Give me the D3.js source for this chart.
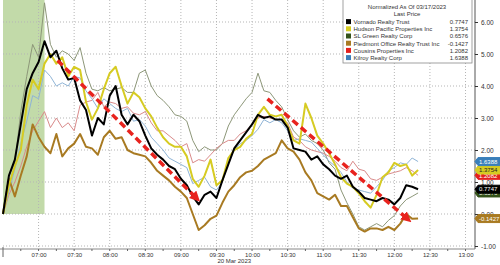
<!DOCTYPE html>
<html>
<head>
<meta charset="utf-8">
<script src="https://cdn.jsdelivr.net/npm/d3@7"></script>
<style>
  html, body { margin: 0; padding: 0; background: #fff; }
  svg { display: block; font-family: "Liberation Sans", Arial, sans-serif; }
</style>
</head>
<body>
<svg id="chart" width="500" height="265"></svg>
<script>
// series names, colours in the order of the legend
const names = ['Vornado Realty Trust', 'Hudson Pacific Properties Inc', 'SL Green Realty Corp',
  'Piedmont Office Realty Trust Inc', 'Cousins Properties Inc', 'Kilroy Realty Corp']
const lastPrice = [0.7747, 1.3754, 0.6576, -0.1427, 1.2082, 1.6388]

// 5 minute samples from 06:30 to 12:20, 20 Mar 2023
const vornado = [0.0, 1.2, 1.7, 2.8, 3.9, 4.4, 4.75, 5.4, 4.9, 5.1, 4.55, 4.2, 4.25, 3.55, 3.25, 2.45, 3.0, 2.8,
  3.7, 4.0, 3.1, 2.8, 3.1, 2.9, 2.45, 2.05, 1.85, 1.7, 1.5, 1.4, 1.1, 0.9, 0.55, 0.3, 0.6, 0.7, 0.5, 1.05,
  1.55, 2.05, 2.3, 2.55, 2.8, 3.1, 3.0, 3.05, 2.95, 2.95, 2.7, 2.05, 2.0, 1.95, 1.7, 1.8, 1.55, 1.4, 1.2,
  1.1, 1.2, 0.85, 0.7, 0.5, 0.45, 0.4, 0.5, 0.45, 0.3, 0.5, 0.9, 0.85, 0.7747]
const hudson = [0.0, 0.9, 1.5, 2.0, 3.4, 4.2, 3.9, 4.7, 5.0, 4.7, 4.9, 4.3, 4.6, 4.5, 3.5, 2.95, 3.3, 3.9,
  4.4, 4.6, 4.0, 3.45, 3.8, 3.65, 3.3, 3.05, 2.7, 2.4, 2.2, 2.1, 2.1, 1.8, 1.1, 0.85, 1.2, 1.7, 0.9, 1.05,
  1.75, 2.0, 2.1, 2.35, 2.5, 3.1, 3.35, 3.1, 3.05, 3.1, 2.75, 2.3, 2.2, 3.45, 3.0, 2.45, 2.2, 1.9, 1.55,
  1.15, 0.95, 0.85, 0.65, 0.4, 0.2, 0.6, 1.15, 1.3, 1.6, 1.5, 1.55, 1.2, 1.3754]
const slGreen = [0.0, 1.2, 1.6, 3.2, 4.3, 5.3, 4.9, 6.6, 5.3, 4.9, 5.1, 5.0, 4.8, 5.2, 4.4, 3.9, 3.85, 3.95,
  3.85, 3.9, 3.95, 3.8, 3.8, 4.4, 4.5, 4.0, 3.7, 3.55, 3.35, 3.1, 3.05, 2.9, 2.3, 1.95, 2.1, 2.0, 2.0, 2.2,
  2.75, 3.1, 3.35, 3.6, 3.8, 4.4, 3.85, 3.8, 3.55, 3.35, 2.95, 2.6, 2.4, 2.5, 2.3, 2.2, 2.0, 1.6, 1.4,
  0.75, 0.35, 0.0, -0.4, -0.5, -0.4, -0.3, -0.4, -0.2, -0.05, 0.25, 0.45, 0.55, 0.6576]
const piedmont = [0.0, 1.1, 0.55, 1.2, 1.8, 2.8, 2.4, 2.1, 1.9, 2.5, 1.8, 2.05, 2.2, 2.5, 2.1, 2.05, 1.85, 2.4,
  2.6, 2.35, 2.4, 2.0, 1.9, 1.85, 1.8, 1.6, 1.35, 1.2, 1.05, 0.85, 0.7, 0.5, 0.0, -0.5, -0.35, -0.15, -0.05,
  0.35, 0.7, 0.9, 1.15, 1.3, 1.35, 1.5, 1.7, 1.8, 1.9, 2.3, 2.05, 1.95, 1.7, 1.3, 1.05, 0.65, 0.55, 0.45,
  0.6, 0.25, 0.25, -0.1, -0.45, -0.55, -0.45, -0.45, -0.5, -0.4, -0.5, -0.3, 0.0, -0.15, -0.1427]
const cousins = [0.0, 0.6, 1.0, 1.5, 2.1, 2.6, 2.9, 3.2, 2.7, 3.0, 2.7, 2.85, 2.6, 3.4, 3.5, 3.55, 3.8, 3.35,
  3.5, 3.45, 3.3, 3.35, 3.15, 3.1, 3.2, 2.85, 2.6, 2.6, 2.45, 2.3, 2.1, 2.2, 1.6, 1.7, 1.65, 1.85, 2.05,
  2.2, 2.3, 2.3, 2.5, 2.6, 2.8, 3.0, 3.05, 3.0, 2.95, 2.95, 2.85, 2.4, 2.3, 2.1, 2.0, 1.95, 1.9, 1.8, 1.65,
  1.45, 1.35, 1.65, 1.4, 1.35, 1.1, 1.05, 1.15, 1.25, 1.3, 1.35, 1.45, 1.35, 1.2082]
const kilroy = [0.0, 0.7, 1.4, 2.2, 2.9, 3.7, 3.6, 4.5, 4.3, 4.0, 4.1, 4.0, 4.3, 4.25, 3.85, 3.6, 3.3, 3.6,
  3.45, 3.3, 3.2, 3.3, 2.9, 2.95, 2.75, 2.4, 2.2, 2.0, 1.75, 1.65, 1.55, 1.45, 0.95, 1.05, 1.15, 0.85, 0.75,
  1.0, 1.6, 2.0, 2.2, 2.3, 2.45, 2.65, 2.95, 2.85, 2.95, 2.85, 2.6, 2.3, 2.35, 2.3, 2.25, 2.05, 1.85, 1.65,
  1.5, 1.3, 1.0, 0.8, 0.75, 0.7, 0.65, 0.85, 1.05, 1.35, 1.45, 1.6, 1.55, 1.75, 1.6388]

const yTicks = [-1, 0, 1, 2, 3, 4, 5, 6]
// hand drawn trend arrows: [start time, start value, end time, end value]
const arrows = [['07:16', 4.8, '09:13', 0.5], ['10:13', 3.6, '12:11', -0.15]]
// shaded pre-market block
const shade = ['06:30', '07:05']

const day = '2023-03-20 '
const parse = d3.timeParse('%Y-%m-%d %H:%M')
const times = d3.timeMinute.every(5).range(parse(day + '06:30'), parse(day + '12:25'))

const svg = d3.select('#chart')
const right = 475
const bottom = 249

const x = d3.scaleTime()
  .domain([parse(day + '06:30'), parse(day + '13:08')])
  .range([3, right])
const y = d3.scaleLinear()
  .domain([-1, 6])
  .range([246, 22])

// green block
svg.append('rect')
  .attr('x', x(parse(day + shade[0])))
  .attr('y', 0)
  .attr('width', x(parse(day + shade[1])) - x(parse(day + shade[0])))
  .attr('height', y(0))
  .attr('fill', '#c2daa9')

// grid
const xGrid = d3.timeMinute.every(30).range(parse(day + '07:00'), parse(day + '13:01'))
svg.append('g').selectAll('line').data(xGrid).enter().append('line')
  .attr('x1', d => x(d)).attr('x2', d => x(d))
  .attr('y1', 0).attr('y2', bottom)
  .attr('stroke', '#b5b5b5').attr('stroke-dasharray', '1,2')
svg.append('g').selectAll('line').data(yTicks).enter().append('line')
  .attr('x1', 3).attr('x2', right)
  .attr('y1', d => y(d)).attr('y2', d => y(d))
  .attr('stroke', '#b5b5b5').attr('stroke-dasharray', '1,2')

// lines
const series = [
  {name: names[2], values: slGreen, color: '#8d9779', w: 1},
  {name: names[4], values: cousins, color: '#d98a8a', w: 1},
  {name: names[5], values: kilroy, color: '#8fb4d6', w: 1},
  {name: names[3], values: piedmont, color: '#a87a22', w: 2},
  {name: names[1], values: hudson, color: '#d6cb22', w: 2},
  {name: names[0], values: vornado, color: '#000000', w: 2}
]
const line = d3.line()
  .x((d, i) => x(times[i]))
  .y(d => y(d))

svg.append('g').selectAll('path').data(series).enter().append('path')
  .attr('d', d => line(d.values))
  .attr('fill', 'none')
  .attr('stroke', d => d.color)
  .attr('stroke-width', d => d.w)
  .attr('stroke-linejoin', 'round')

// arrows
svg.append('defs').append('marker')
  .attr('id', 'head')
  .attr('viewBox', '0 0 10 10')
  .attr('refX', 5).attr('refY', 5)
  .attr('markerWidth', 3).attr('markerHeight', 3)
  .attr('orient', 'auto')
  .append('path').attr('d', 'M0,0 L10,5 L0,10 Z').attr('fill', '#e8231e')

svg.append('g').selectAll('line').data(arrows).enter().append('line')
  .attr('x1', d => x(parse(day + d[0]))).attr('y1', d => y(d[1]))
  .attr('x2', d => x(parse(day + d[2]))).attr('y2', d => y(d[3]))
  .attr('stroke', '#e8231e')
  .attr('stroke-width', 3.5)
  .attr('stroke-dasharray', '7,4')
  .attr('marker-end', 'url(#head)')

// y axis on the right
const yAxis = d3.axisRight(y)
  .tickValues(yTicks)
  .tickSize(3)
  .tickFormat(d => d.toFixed(2))
const yG = svg.append('g')
  .attr('transform', `translate(${right}, 0)`)
  .call(yAxis)
yG.select('.domain').attr('d', `M0,0V${bottom}`).attr('stroke', '#555')
yG.selectAll('.tick line').attr('stroke', '#333')
yG.selectAll('.tick text').attr('x', 6).style('font-size', '6.5px').attr('fill', '#333')

// x axis
const xAxis = d3.axisBottom(x)
  .ticks(d3.timeMinute.every(30))
  .tickSize(0)
  .tickPadding(4)
  .tickFormat(d3.timeFormat('%H:%M'))
const xG = svg.append('g')
  .attr('transform', `translate(0, ${bottom})`)
  .call(xAxis)
xG.select('.domain').attr('d', `M0,0H${right}`).attr('stroke', '#888')
xG.selectAll('.tick text').style('font-size', '6px').attr('fill', '#333')
xG.selectAll('.tick').filter(d => d.getHours() === 6).remove()

const minor = d3.timeMinute.every(15).range(parse(day + '06:45'), parse(day + '13:08'))
svg.append('g').selectAll('line').data(minor).enter().append('line')
  .attr('x1', d => x(d)).attr('x2', d => x(d))
  .attr('y1', bottom).attr('y2', bottom + 2)
  .attr('stroke', '#666')
svg.append('line')
  .attr('x1', 3).attr('x2', 3).attr('y1', bottom - 2).attr('y2', bottom + 8)
  .attr('stroke', '#666')

svg.append('text')
  .attr('x', x(parse(day + '09:45'))).attr('y', 263)
  .attr('text-anchor', 'middle')
  .style('font-size', '6px').attr('fill', '#333')
  .text('20 Mar 2023')

// last value tags, hidden ones first
const tagColors = ['#000000', '#d6cb22', '#34521a', '#a87a22', '#e3201e', '#3a7fba']
const tagText = ['#fff', '#222', '#fff', '#fff', '#fff', '#fff']
const tagOrder = [2, 4, 3, 0, 1, 5]
const tags = svg.append('g').selectAll('g').data(tagOrder).enter().append('g')
  .attr('transform', i => `translate(${right + 1}, ${y(lastPrice[i])})`)
tags.append('path')
  .attr('d', 'M-1,0 L2,-4 L24,-4 L24,4 L2,4 Z')
  .attr('fill', i => tagColors[i])
  .attr('stroke', i => tagColors[i])
  .attr('stroke-linejoin', 'round')
  .attr('stroke-width', 1)
tags.append('text')
  .attr('x', 3).attr('y', 2.2)
  .style('font-size', '6px')
  .attr('fill', i => tagText[i])
  .text(i => lastPrice[i].toFixed(4))

// legend
const lg = svg.append('g')
lg.append('rect')
  .attr('x', 343).attr('y', -1).attr('width', 129).attr('height', 64)
  .attr('fill', '#fff').attr('stroke', '#8a8a8a').attr('stroke-width', 0.8)
lg.append('text').attr('x', 407).attr('y', 8.5).attr('text-anchor', 'middle')
  .style('font-size', '6px').attr('fill', '#333').text('Normalized As Of 03/17/2023')
lg.append('text').attr('x', 407).attr('y', 15.5).attr('text-anchor', 'middle')
  .style('font-size', '6px').attr('fill', '#333').text('Last Price')
const rows = lg.selectAll('g.row').data(names).enter().append('g')
  .attr('class', 'row')
  .attr('transform', (d, i) => `translate(0, ${21.7 + i * 7.2})`)
rows.append('rect')
  .attr('x', 346).attr('y', -2.6).attr('width', 5).attr('height', 5)
  .attr('fill', (d, i) => tagColors[i])
rows.append('text')
  .attr('x', 353.5).attr('y', 2.2)
  .style('font-size', '6px').attr('fill', '#333')
  .text(d => d)
rows.append('text')
  .attr('x', 468).attr('y', 2.2).attr('text-anchor', 'end')
  .style('font-size', '6px').attr('fill', '#333')
  .text((d, i) => lastPrice[i].toFixed(4))
</script>
</body>
</html>
